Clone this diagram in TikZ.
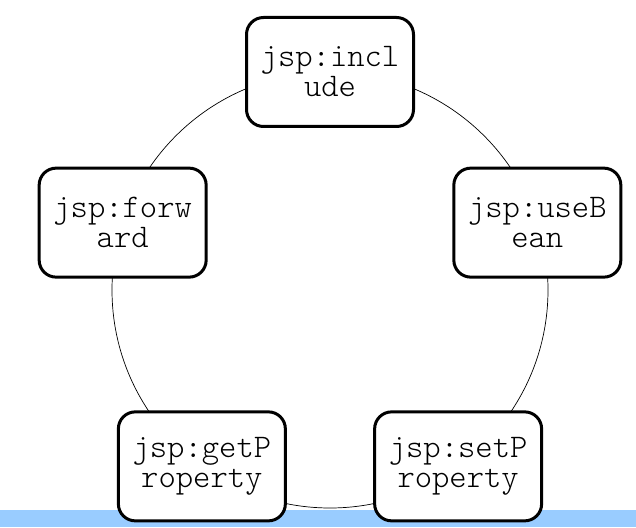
\documentclass[tikz,border=0pt]{standalone}
\usepackage{fontspec}
\setmonofont{Latin Modern Mono Light}
\usetikzlibrary{positioning}
\definecolor{barblue}{HTML}{99CCFF}
\tikzset{
tag/.style={draw, line width=3pt, rounded corners=17pt, fill=white,
  minimum width=167pt, minimum height=109pt, align=center,
  font=\ttfamily\fontsize{33}{30}\selectfont, inner sep=0pt},
}

\begin{document}
\begin{tikzpicture}[x=1pt,y=1pt]
\useasboundingbox (-330,-237) rectangle (306,290);
\fill[barblue] (-330,-237) rectangle (306,-220);
\coordinate (c);
\draw[line width=0.7pt] (c) circle (218);
\node[tag] (incl) at (90:218) {jsp:incl\\ude};
\node[tag] (usebean) at (18:218) {jsp:useB\\ean};
\node[tag] (setp) at (-54:218) {jsp:setP\\roperty};
\node[tag] (getp) at (234:218) {jsp:getP\\roperty};
\node[tag] (fwd) at (162:218) {jsp:forw\\ard};
\end{tikzpicture}
\end{document}
